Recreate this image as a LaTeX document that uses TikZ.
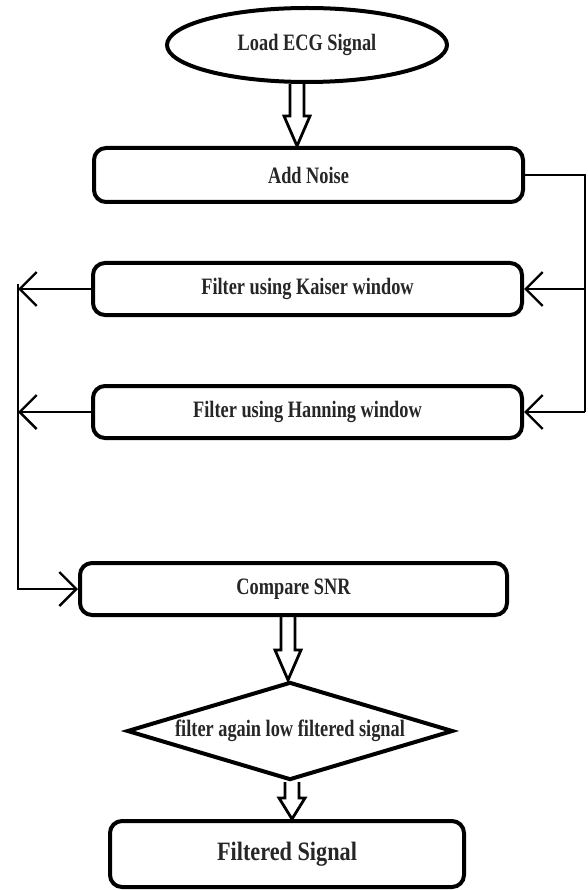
\documentclass[tikz,border=0pt]{standalone}
\usepackage{fontspec}
\newfontfamily\lblfont{Liberation Serif}[FakeStretch=0.78]
\newfontfamily\bigfont{Liberation Serif}[FakeStretch=0.84]
\usetikzlibrary{shapes.geometric,arrows.meta,calc}
\begin{document}
\begin{tikzpicture}[x=1pt,y=-1pt,
  lbl/.style={font=\lblfont\bfseries\fontsize{23.5}{27}\selectfont, text=black!85},
  procbox/.style={draw, line width=4pt, rectangle, rounded corners=12pt, inner sep=0pt, lbl},
  conn/.style={line width=2.4pt},
  barb/.style={-{Straight Barb[length=17pt,width=34pt]}},
  dblarrow/.style={line width=2.8pt, line join=miter, to path={
    let \p1=(\tikztostart), \p2=(\tikztotarget) in
    (\x1-7pt,\y1) -- (\x1-7pt,\y2+#1) -- (\x1-13pt,\y2+#1) -- (\x1,\y2)
    -- (\x1+13pt,\y2+#1) -- (\x1+7pt,\y2+#1) -- (\x1+7pt,\y1)}},
  dblarrow/.default=30pt]
\useasboundingbox (0,0) rectangle (587,890);

\node[draw, ellipse, line width=4pt, minimum width=280pt, minimum height=74pt, inner sep=0pt, lbl] (ecg) at (307,45) {Load ECG Signal};
\node[procbox, minimum width=429pt, minimum height=54pt] (noise) at (308.5,175) {Add Noise};
\node[procbox, minimum width=429pt, minimum height=52pt] (kaiser) at (307.5,289) {Filter using Kaiser window};
\node[procbox, minimum width=429pt, minimum height=52pt] (hanning) at (307.5,412) {Filter using Hanning window};
\node[procbox, minimum width=427pt, minimum height=52pt] (compare) at (293.5,589) {Compare SNR};
\node[draw, diamond, line width=4pt, aspect=3.3, minimum width=326pt, minimum height=98pt, inner sep=0pt, lbl] (decide) at (290,731) {filter again low filtered signal};
\node[procbox, minimum width=354pt, minimum height=66pt, font=\bigfont\bfseries\fontsize{26.5}{30}\selectfont] (out) at (287,854) {Filtered Signal};

\coordinate (L) at (18,284);
\coordinate (R) at (585,0);

% double (hollow) arrows
\draw[dblarrow] ([xshift=-10pt]ecg.south) to (noise.north);
\draw[dblarrow=30pt] ([xshift=-5.5pt]compare.south) to (decide.north);
\draw[dblarrow=21pt] ([xshift=2pt]decide.south) to ([xshift=2pt]out.north);

% right feed lines
\draw[conn] (noise.east) -| (R |- hanning.east);
\draw[conn, barb] (R |- kaiser.east) -- (kaiser.east);
\draw[conn, barb] (R |- hanning.east) -- (hanning.east);

% left collect lines
\draw[conn, barb] (kaiser.west) -- (kaiser.west -| L);
\draw[conn, barb] (hanning.west) -- (hanning.west -| L);
\draw[conn, barb] (L) |- (compare.west);
\end{tikzpicture}
\end{document}
